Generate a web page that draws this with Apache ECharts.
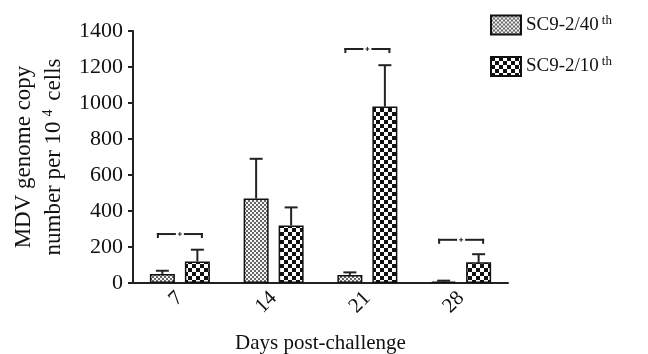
<!DOCTYPE html>
<html>
<head>
<meta charset="utf-8">
<script src="https://cdn.jsdelivr.net/npm/echarts@6/dist/echarts.min.js"></script>
<style>
  html, body { margin: 0; padding: 0; background: #fff; }
  #chart { width: 648px; height: 354px; }
</style>
</head>
<body>
<div id="chart"></div>
<script>
var days = ["7", "14", "21", "28"];
var names = ["SC9-2/40", "SC9-2/10"];
var mean40 = [50, 470, 45, 8];
var err40 = [18, 220, 14, 5];
var mean10 = [120, 320, 980, 115];
var err10 = [65, 100, 230, 45];
// significance brackets: category index, height
var sigDays = [0, 2, 3];
var sigLevel = [272, 1300, 240];

var FONT = "Liberation Serif";

function makePattern(cell, dark, light) {
  var c = document.createElement("canvas");
  c.width = cell * 2;
  c.height = cell * 2;
  var ctx = c.getContext("2d");
  ctx.fillStyle = light;
  ctx.fillRect(0, 0, c.width, c.height);
  ctx.fillStyle = dark;
  ctx.fillRect(0, 0, cell, cell);
  ctx.fillRect(cell, cell, cell, cell);
  return { image: c, repeat: "repeat" };
}
var fine = makePattern(2, "#666", "#f4f4f4");
var coarse = makePattern(4, "#111", "#fff");

var BAR_W = 25;
var OFFSET = 17.5; // half of bar width + gap

var errData = [];
for (var i = 0; i < days.length; i++) {
  errData.push([i, mean40[i], err40[i], -1]);
  errData.push([i, mean10[i], err10[i], 1]);
}
var sigData = sigDays.map(function (d, k) { return [d, sigLevel[k]]; });

var chartDom = document.getElementById("chart");
var myChart = echarts.init(chartDom);

function seg(x1, y1, x2, y2, w) {
  return { type: "line", shape: { x1: x1, y1: y1, x2: x2, y2: y2 },
           style: { stroke: "#222", lineWidth: w || 2 } };
}

var option = {
  animation: false,
  grid: { left: 133, right: 140, top: 31, bottom: 71, outerBoundsMode: "none", containLabel: false },
  legend: {
    orient: "vertical",
    left: 485,
    top: 9,
    icon: "rect",
    itemWidth: 30,
    itemHeight: 19,
    itemGap: 20,
    data: names,
    formatter: function (n) { return n + "{s|th}"; },
    textStyle: {
      fontFamily: FONT,
      fontSize: 19,
      color: "#111",
      rich: { s: { fontFamily: FONT, fontSize: 13, padding: [0, 0, 9, 3] } }
    }
  },
  xAxis: {
    type: "category",
    data: days,
    name: "Days post-challenge",
    nameLocation: "middle",
    nameGap: 50,
    nameMoveOverlap: false,
    nameTextStyle: { fontFamily: FONT, fontSize: 21, color: "#111" },
    axisLine: { lineStyle: { color: "#222", width: 2 } },
    axisTick: { alignWithLabel: true, length: 6, lineStyle: { color: "#222", width: 2 } },
    axisLabel: { rotate: 45, margin: 12, fontFamily: FONT, fontSize: 21, color: "#111" }
  },
  yAxis: {
    type: "value",
    min: 0,
    max: 1400,
    interval: 200,
    name: "MDV genome copy\nnumber per 10{s|4} cells",
    nameLocation: "middle",
    nameGap: 64,
    nameMoveOverlap: false,
    nameTextStyle: {
      fontFamily: FONT,
      fontSize: 23,
      color: "#111",
      lineHeight: 30,
      rich: { s: { fontFamily: FONT, fontSize: 14, padding: [0, 3, 12, 5] } }
    },
    splitLine: { show: false },
    axisLine: { show: true, lineStyle: { color: "#222", width: 2 } },
    axisTick: { show: true, length: 5, lineStyle: { color: "#222", width: 2 } },
    axisLabel: {
      margin: 10, fontFamily: FONT, fontSize: 22, color: "#111",
      formatter: function (v) { return String(v); }
    }
  },
  series: [
    {
      name: names[0],
      type: "bar",
      barWidth: BAR_W,
      barGap: "40%",
      data: mean40,
      itemStyle: { color: fine, borderColor: "#111", borderWidth: 1.5 }
    },
    {
      name: names[1],
      type: "bar",
      barWidth: BAR_W,
      data: mean10,
      itemStyle: { color: coarse, borderColor: "#111", borderWidth: 1.5 }
    },
    {
      type: "custom",
      data: errData,
      z: 1,
      renderItem: function (params, api) {
        var side = api.value(3);
        var base = api.coord([api.value(0), api.value(1)]);
        var top = api.coord([api.value(0), api.value(1) + api.value(2)]);
        var x = base[0] + side * OFFSET;
        var cap = 6.5;
        return {
          type: "group",
          children: [
            seg(x, base[1], x, top[1]),
            seg(x - cap, top[1], x + cap, top[1])
          ]
        };
      }
    },
    {
      type: "custom",
      data: sigData,
      renderItem: function (params, api) {
        var p = api.coord([api.value(0), api.value(1)]);
        var x = p[0], y = p[1];
        var w = 22, g = 4, h = 4;
        return {
          type: "group",
          children: [
            seg(x - w, y - 1, x - w, y + h),
            seg(x - w - 1, y, x - g, y),
            seg(x + g, y, x + w + 1, y),
            seg(x + w, y - 1, x + w, y + h),
            seg(x - 2, y, x + 2, y, 1),
            seg(x, y - 2, x, y + 2, 1)
          ]
        };
      }
    }
  ]
};

window.addEventListener("resize", function () {
  myChart.resize();
});
myChart.setOption(option);
</script>
</body>
</html>
